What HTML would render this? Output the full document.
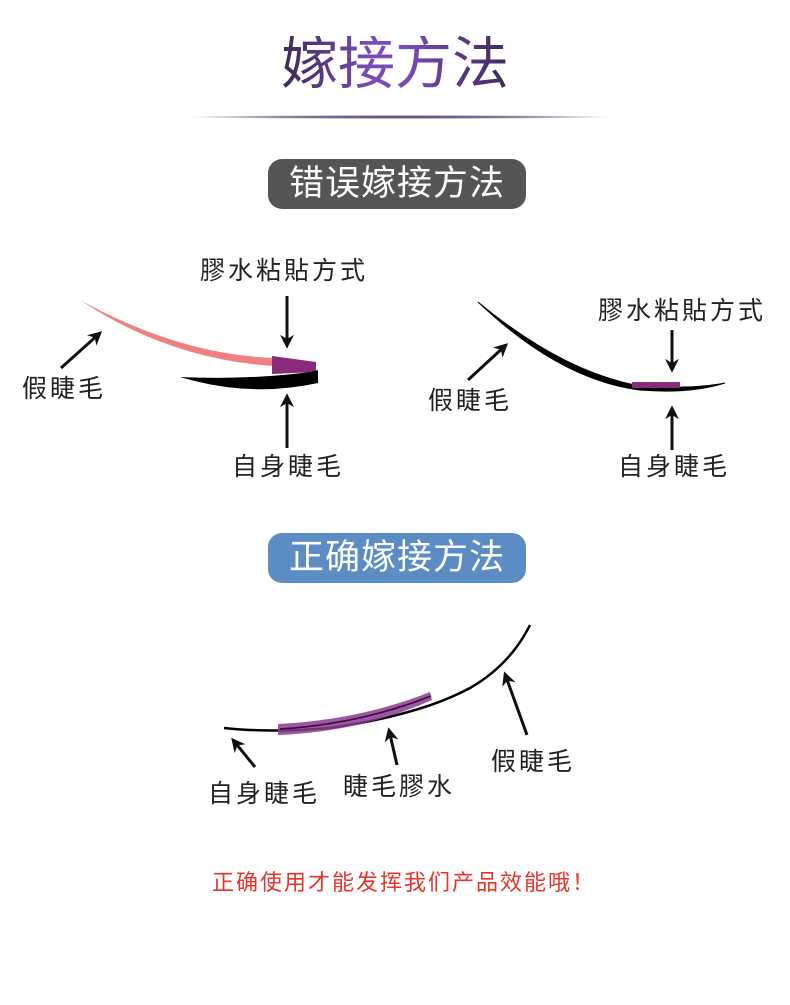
<!DOCTYPE html>
<html><head><meta charset="utf-8"><style>
body{margin:0;width:790px;height:1005px;background:#fff;position:relative;overflow:hidden;font-family:"Liberation Sans","Noto Sans CJK SC",sans-serif}
.t{position:absolute;white-space:nowrap;line-height:1}
.lab{font-size:25px;letter-spacing:3px;color:#222}
.pill{position:absolute;border-radius:14px;color:#fff;font-size:35px;text-align:center;line-height:50px;letter-spacing:1px}
</style></head><body>
<div class="t" style="left:281px;top:36px;font-size:57px;background:linear-gradient(90deg,#3d2a55,#7a4bb8 40%,#7a4bb8 55%,#3d2a55);-webkit-background-clip:text;color:transparent">嫁接方法</div>
<div style="position:absolute;left:180px;top:115px;width:440px;height:4px;background:radial-gradient(ellipse at center,#4a3563 0%,#8a7a9a 40%,rgba(255,255,255,0) 70%)"></div>
<div class="pill" style="left:268px;top:159px;width:258px;height:50px;background:#555">错误嫁接方法</div>
<div class="pill" style="left:268px;top:533px;width:258px;height:50px;background:#5b8cc4">正确嫁接方法</div>

<svg width="790" height="1005" style="position:absolute;left:0;top:0">
<defs>
<marker id="b" viewBox="0 0 10 10" markerWidth="14" markerHeight="14" refX="8" refY="5" orient="auto" markerUnits="userSpaceOnUse"><path d="M0,0 L10,5 L0,10 L3,5 Z" fill="#111"/></marker></defs>
<path d="M80,300 Q180,355 275,358 L275,366 Q170,360 80,300 Z" fill="#f08080"/>
<path d="M272,356 L316,362 L316,372 L272,374 Z" fill="#8a2a7a"/>
<path d="M180,377 Q250,380 310,372 L318,370 L318,383 Q250,398 180,377 Z" fill="#000"/>
<g stroke="#111" stroke-width="3" fill="none">
<line x1="287" y1="296" x2="287" y2="346" marker-end="url(#b)"/>
<line x1="287" y1="448" x2="287" y2="396" marker-end="url(#b)"/>
<line x1="61" y1="368" x2="100" y2="333" marker-end="url(#b)"/>
<line x1="672" y1="330" x2="672" y2="370" marker-end="url(#b)"/>
<line x1="672" y1="450" x2="672" y2="408" marker-end="url(#b)"/>
<line x1="468" y1="380" x2="506" y2="345" marker-end="url(#b)"/>
<line x1="255" y1="767" x2="233" y2="740" marker-end="url(#b)"/>
<line x1="397" y1="765" x2="389" y2="730" marker-end="url(#b)"/>
<line x1="527" y1="735" x2="505" y2="674" marker-end="url(#b)"/>
</g>
<path d="M478,302 Q560,370 635,385 Q690,390 725,383 Q690,394 640,390 Q560,380 478,302 Z" fill="#000" stroke="#000" stroke-width="1"/>
<rect x="632" y="382" width="48" height="6" fill="#8a2a7a"/>
<path d="M224,728 Q270,733 330,728 Q420,715 470,688 Q510,665 530,625" fill="none" stroke="#000" stroke-width="2.5"/>
<path d="M278,724 Q360,720 430,692 L432,700 Q360,732 278,735 Z" fill="#8a3a8f" opacity="0.85"/>
<path d="M280,729 Q360,724 431,696" fill="none" stroke="#3a0a3a" stroke-width="1.5"/>
</svg>

<div class="t lab" style="left:200px;top:259px">膠水粘貼方式</div>
<div class="t lab" style="left:22px;top:377px">假睫毛</div>
<div class="t lab" style="left:232px;top:455px">自身睫毛</div>
<div class="t lab" style="left:598px;top:299px">膠水粘貼方式</div>
<div class="t lab" style="left:428px;top:389px">假睫毛</div>
<div class="t lab" style="left:618px;top:455px">自身睫毛</div>
<div class="t lab" style="left:208px;top:782px">自身睫毛</div>
<div class="t lab" style="left:343px;top:775px">睫毛膠水</div>
<div class="t lab" style="left:491px;top:750px">假睫毛</div>
<div class="t" style="left:212px;top:872px;font-size:22px;letter-spacing:2px;color:#e8332a">正确使用才能发挥我们产品效能哦！</div>
</body></html>
